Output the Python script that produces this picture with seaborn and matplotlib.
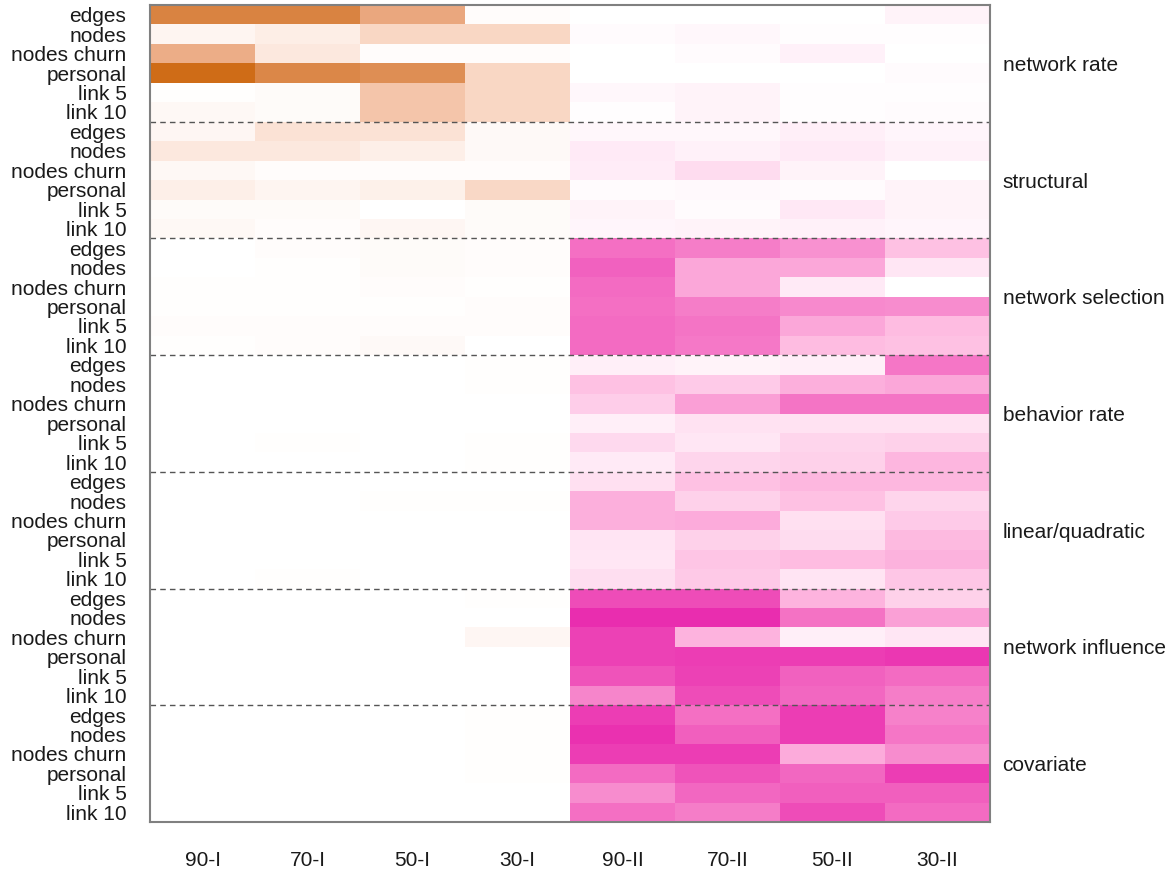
import numpy as np
import pandas as pd
import matplotlib
matplotlib.use("Agg")
import matplotlib.pyplot as plt
from matplotlib.colors import LinearSegmentedColormap
import seaborn as sns

sns.set_theme(style="white")
plt.rcParams["font.family"] = ["Liberation Sans", "DejaVu Sans"]

# Column conditions: first four belong to scenario I, last four to scenario II
columns = ["90-I", "70-I", "50-I", "30-I", "90-II", "70-II", "50-II", "30-II"]
row_labels = ["edges", "nodes", "nodes churn", "personal", "link 5", "link 10"]
groups = ["network rate", "structural", "network selection", "behavior rate",
          "linear/quadratic", "network influence", "covariate"]

# Relative intensity per effect (rows) and condition (columns), one block per group
network_rate = [
    [0.84, 0.84, 0.60, 0.02, 0.00, 0.00, 0.00, 0.06],
    [0.07, 0.12, 0.28, 0.28, 0.02, 0.04, 0.01, 0.01],
    [0.56, 0.16, 0.02, 0.02, 0.00, 0.02, 0.07, 0.00],
    [1.00, 0.82, 0.77, 0.28, 0.00, 0.00, 0.00, 0.02],
    [0.01, 0.03, 0.40, 0.28, 0.04, 0.06, 0.01, 0.01],
    [0.05, 0.03, 0.40, 0.28, 0.01, 0.06, 0.01, 0.02],
]
structural = [
    [0.06, 0.20, 0.20, 0.04, 0.04, 0.04, 0.08, 0.05],
    [0.16, 0.16, 0.11, 0.04, 0.10, 0.07, 0.10, 0.07],
    [0.05, 0.02, 0.02, 0.02, 0.09, 0.17, 0.06, 0.00],
    [0.11, 0.07, 0.10, 0.27, 0.02, 0.03, 0.02, 0.06],
    [0.03, 0.03, 0.00, 0.03, 0.06, 0.02, 0.11, 0.06],
    [0.05, 0.02, 0.06, 0.03, 0.05, 0.06, 0.07, 0.05],
]
network_selection = [
    [0.00, 0.02, 0.03, 0.02, 0.68, 0.62, 0.52, 0.30],
    [0.00, 0.01, 0.03, 0.02, 0.75, 0.42, 0.42, 0.12],
    [0.01, 0.01, 0.02, 0.01, 0.70, 0.42, 0.10, 0.00],
    [0.01, 0.01, 0.01, 0.02, 0.68, 0.62, 0.56, 0.55],
    [0.02, 0.02, 0.02, 0.02, 0.70, 0.66, 0.42, 0.32],
    [0.01, 0.02, 0.04, 0.00, 0.70, 0.64, 0.32, 0.30],
]
behavior_rate = [
    [0.00, 0.00, 0.00, 0.01, 0.08, 0.06, 0.08, 0.65],
    [0.00, 0.00, 0.00, 0.01, 0.30, 0.25, 0.38, 0.42],
    [0.00, 0.00, 0.00, 0.00, 0.24, 0.46, 0.66, 0.66],
    [0.00, 0.00, 0.00, 0.00, 0.08, 0.14, 0.14, 0.14],
    [0.00, 0.01, 0.00, 0.01, 0.18, 0.12, 0.20, 0.22],
    [0.00, 0.00, 0.00, 0.01, 0.10, 0.20, 0.22, 0.35],
]
linear_quadratic = [
    [0.00, 0.00, 0.00, 0.00, 0.15, 0.30, 0.34, 0.34],
    [0.00, 0.00, 0.01, 0.01, 0.38, 0.22, 0.30, 0.20],
    [0.00, 0.00, 0.00, 0.00, 0.38, 0.40, 0.15, 0.25],
    [0.00, 0.00, 0.00, 0.00, 0.13, 0.22, 0.17, 0.33],
    [0.00, 0.00, 0.00, 0.00, 0.12, 0.28, 0.32, 0.37],
    [0.00, 0.01, 0.00, 0.00, 0.16, 0.26, 0.13, 0.27],
]
network_influence = [
    [0.00, 0.00, 0.00, 0.01, 0.85, 0.85, 0.36, 0.22],
    [0.00, 0.00, 0.00, 0.00, 1.00, 1.00, 0.67, 0.45],
    [0.00, 0.00, 0.00, 0.06, 0.90, 0.36, 0.08, 0.12],
    [0.00, 0.00, 0.00, 0.00, 0.90, 0.92, 0.92, 0.95],
    [0.00, 0.00, 0.00, 0.00, 0.82, 0.90, 0.75, 0.70],
    [0.00, 0.00, 0.00, 0.00, 0.58, 0.85, 0.72, 0.62],
]
covariate = [
    [0.00, 0.00, 0.00, 0.01, 0.92, 0.68, 0.92, 0.60],
    [0.00, 0.00, 0.00, 0.01, 0.98, 0.76, 0.92, 0.65],
    [0.00, 0.00, 0.00, 0.01, 0.92, 0.92, 0.40, 0.55],
    [0.00, 0.00, 0.00, 0.01, 0.70, 0.82, 0.72, 0.92],
    [0.00, 0.00, 0.00, 0.00, 0.55, 0.72, 0.76, 0.76],
    [0.00, 0.00, 0.00, 0.00, 0.68, 0.62, 0.85, 0.70],
]

blocks = [network_rate, structural, network_selection, behavior_rate,
          linear_quadratic, network_influence, covariate]
values = np.vstack([np.array(b) for b in blocks])
df = pd.DataFrame(values, columns=columns)

n_rows, n_cols = df.shape
n_per_group = len(row_labels)

orange_cmap = LinearSegmentedColormap.from_list(
    "orange_scale",
    [(0.0, "#ffffff"), (0.29, "#f9d5c2"), (0.62, "#e9a47a"),
     (0.77, "#de8e55"), (1.0, "#cf6c17")])
pink_cmap = LinearSegmentedColormap.from_list(
    "pink_scale",
    [(0.0, "#ffffff"), (0.31, "#febee2"), (0.67, "#f472c4"),
     (1.0, "#e92daf")])

# Masks select the scenario I half and the scenario II half
is_second = np.array([c.endswith("-II") for c in columns])
mask_first = np.tile(is_second, (n_rows, 1))
mask_second = ~mask_first

fig = plt.figure(figsize=(11.73, 8.77), dpi=100)
ax = fig.add_axes([150 / 1173, 1 - 822 / 877, 840 / 1173, 817 / 877])

sns.heatmap(df, mask=mask_first, cmap=orange_cmap, vmin=0, vmax=1,
            cbar=False, ax=ax, linewidths=0)
sns.heatmap(df, mask=mask_second, cmap=pink_cmap, vmin=0, vmax=1,
            cbar=False, ax=ax, linewidths=0)

# Dashed separators between groups
for g in range(1, len(groups)):
    ax.axhline(g * n_per_group, color="#555555", linestyle=(0, (4, 3)),
               linewidth=1.0)

text_color = "#1a1a1a"
ax.set_yticks(np.arange(n_rows) + 0.5)
ax.set_yticklabels(row_labels * len(groups), rotation=0, fontsize=15,
                   color=text_color, va="center_baseline")
ax.set_xticks(np.arange(n_cols) + 0.5)
ax.set_xticklabels(columns, rotation=0, fontsize=15, color=text_color)
ax.tick_params(axis="y", length=0, pad=17)
ax.tick_params(axis="x", length=0, pad=21)
ax.set_xlabel("")
ax.set_ylabel("")

# Group names to the right of the grid
for g, name in enumerate(groups):
    ax.text(n_cols + 0.12, g * n_per_group + n_per_group / 2, name,
            ha="left", va="center_baseline", fontsize=15, color=text_color,
            clip_on=False)

for side in ["left", "right", "top", "bottom"]:
    ax.spines[side].set_visible(True)
    ax.spines[side].set_color("#808080")
    ax.spines[side].set_linewidth(1.5)

fig.savefig("out.png", dpi=100)
